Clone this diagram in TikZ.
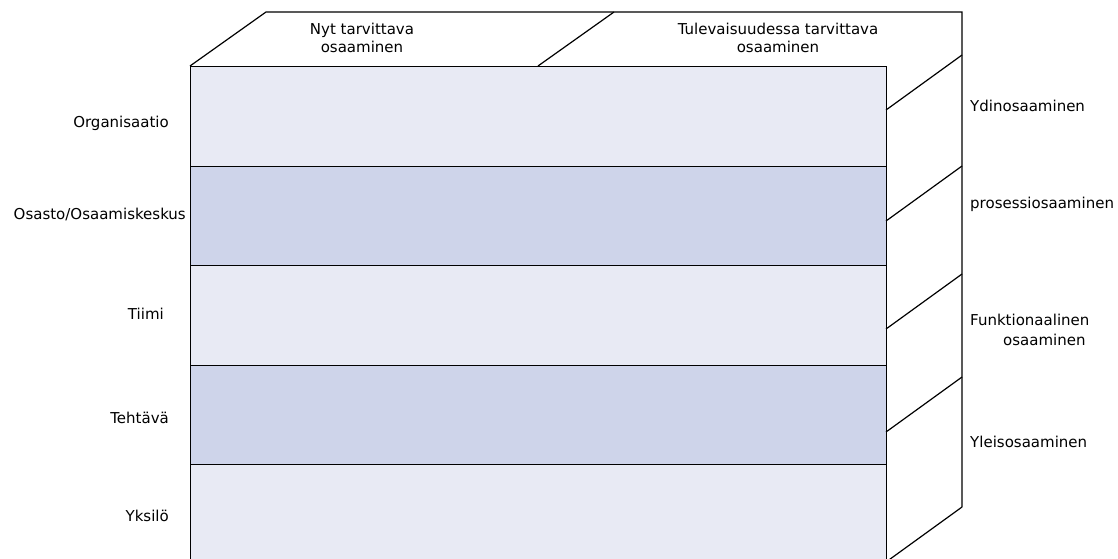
\documentclass[tikz,border=0pt]{standalone}
\usepackage{fontspec}
\setmainfont{DejaVu Sans}
\begin{document}
\begin{tikzpicture}[x=1pt,y=-1pt,
  edge/.style={draw=black,line width=1.2pt},
  band/.style={rectangle,draw=black,line width=1.2pt,inner sep=0pt,
    minimum width=696pt,minimum height=99.5pt,anchor=north west},
  lightband/.style={band,fill=bandlight},
  darkband/.style={band,fill=banddark},
  lbl/.style={font=\fontsize{15}{18}\selectfont,inner sep=0pt},
  hdr/.style={lbl,align=center}]
\definecolor{bandlight}{RGB}{232,234,244}
\definecolor{banddark}{RGB}{206,212,234}
\useasboundingbox (0,0) rectangle (1118,558);
\clip (0,0) rectangle (1118,558);

% front face: five horizontal levels
\node[lightband] (b1) at (190,66) {};
\node[darkband]  (b2) at (190,165.5) {};
\node[lightband] (b3) at (190,265) {};
\node[darkband]  (b4) at (190,364.5) {};
\node[lightband] (b5) at (190,464) {};

% top face
\coordinate (tl) at (266,12);
\coordinate (tr) at (962,12);
\coordinate (tm) at (614,12);
\coordinate (fm) at (538,66);
\draw[edge] (b1.north west) -- (tl) -- (tr) -- (962,507);
\draw[edge] (fm) -- (tm);

% right face: competence layers
\draw[edge] (886,110) -- (962,55);
\draw[edge] (886,221) -- (962,166);
\draw[edge] (886,329) -- (962,274);
\draw[edge] (886,432) -- (962,377);
\draw[edge] (886,562) -- (962,507);

% column headings
\node[hdr] (h1) at (362,38) {Nyt tarvittava\\osaaminen};
\node[hdr] (h2) at (778,38) {Tulevaisuudessa tarvittava\\osaaminen};

% level labels
\node[lbl,anchor=east] (l1) at (169,123) {Organisaatio};
\node[lbl,anchor=east] (l2) at (186,214) {Osasto/Osaamiskeskus};
\node[lbl,anchor=east] (l3) at (164,314) {Tiimi};
\node[lbl,anchor=east] (l4) at (169,418) {Tehtävä};
\node[lbl,anchor=east] (l5) at (169,516) {Yksilö};

% competence labels
\node[lbl,anchor=west] (r1) at (970,106) {Ydinosaaminen};
\node[lbl,anchor=west] (r2) at (970,204) {prosessiosaaminen};
\node[lbl,anchor=west] (r3) at (970,320) {Funktionaalinen};
\node[lbl,anchor=west] (r3b) at (1003,340) {osaaminen};
\node[lbl,anchor=west] (r4) at (970,442) {Yleisosaaminen};
\end{tikzpicture}
\end{document}
